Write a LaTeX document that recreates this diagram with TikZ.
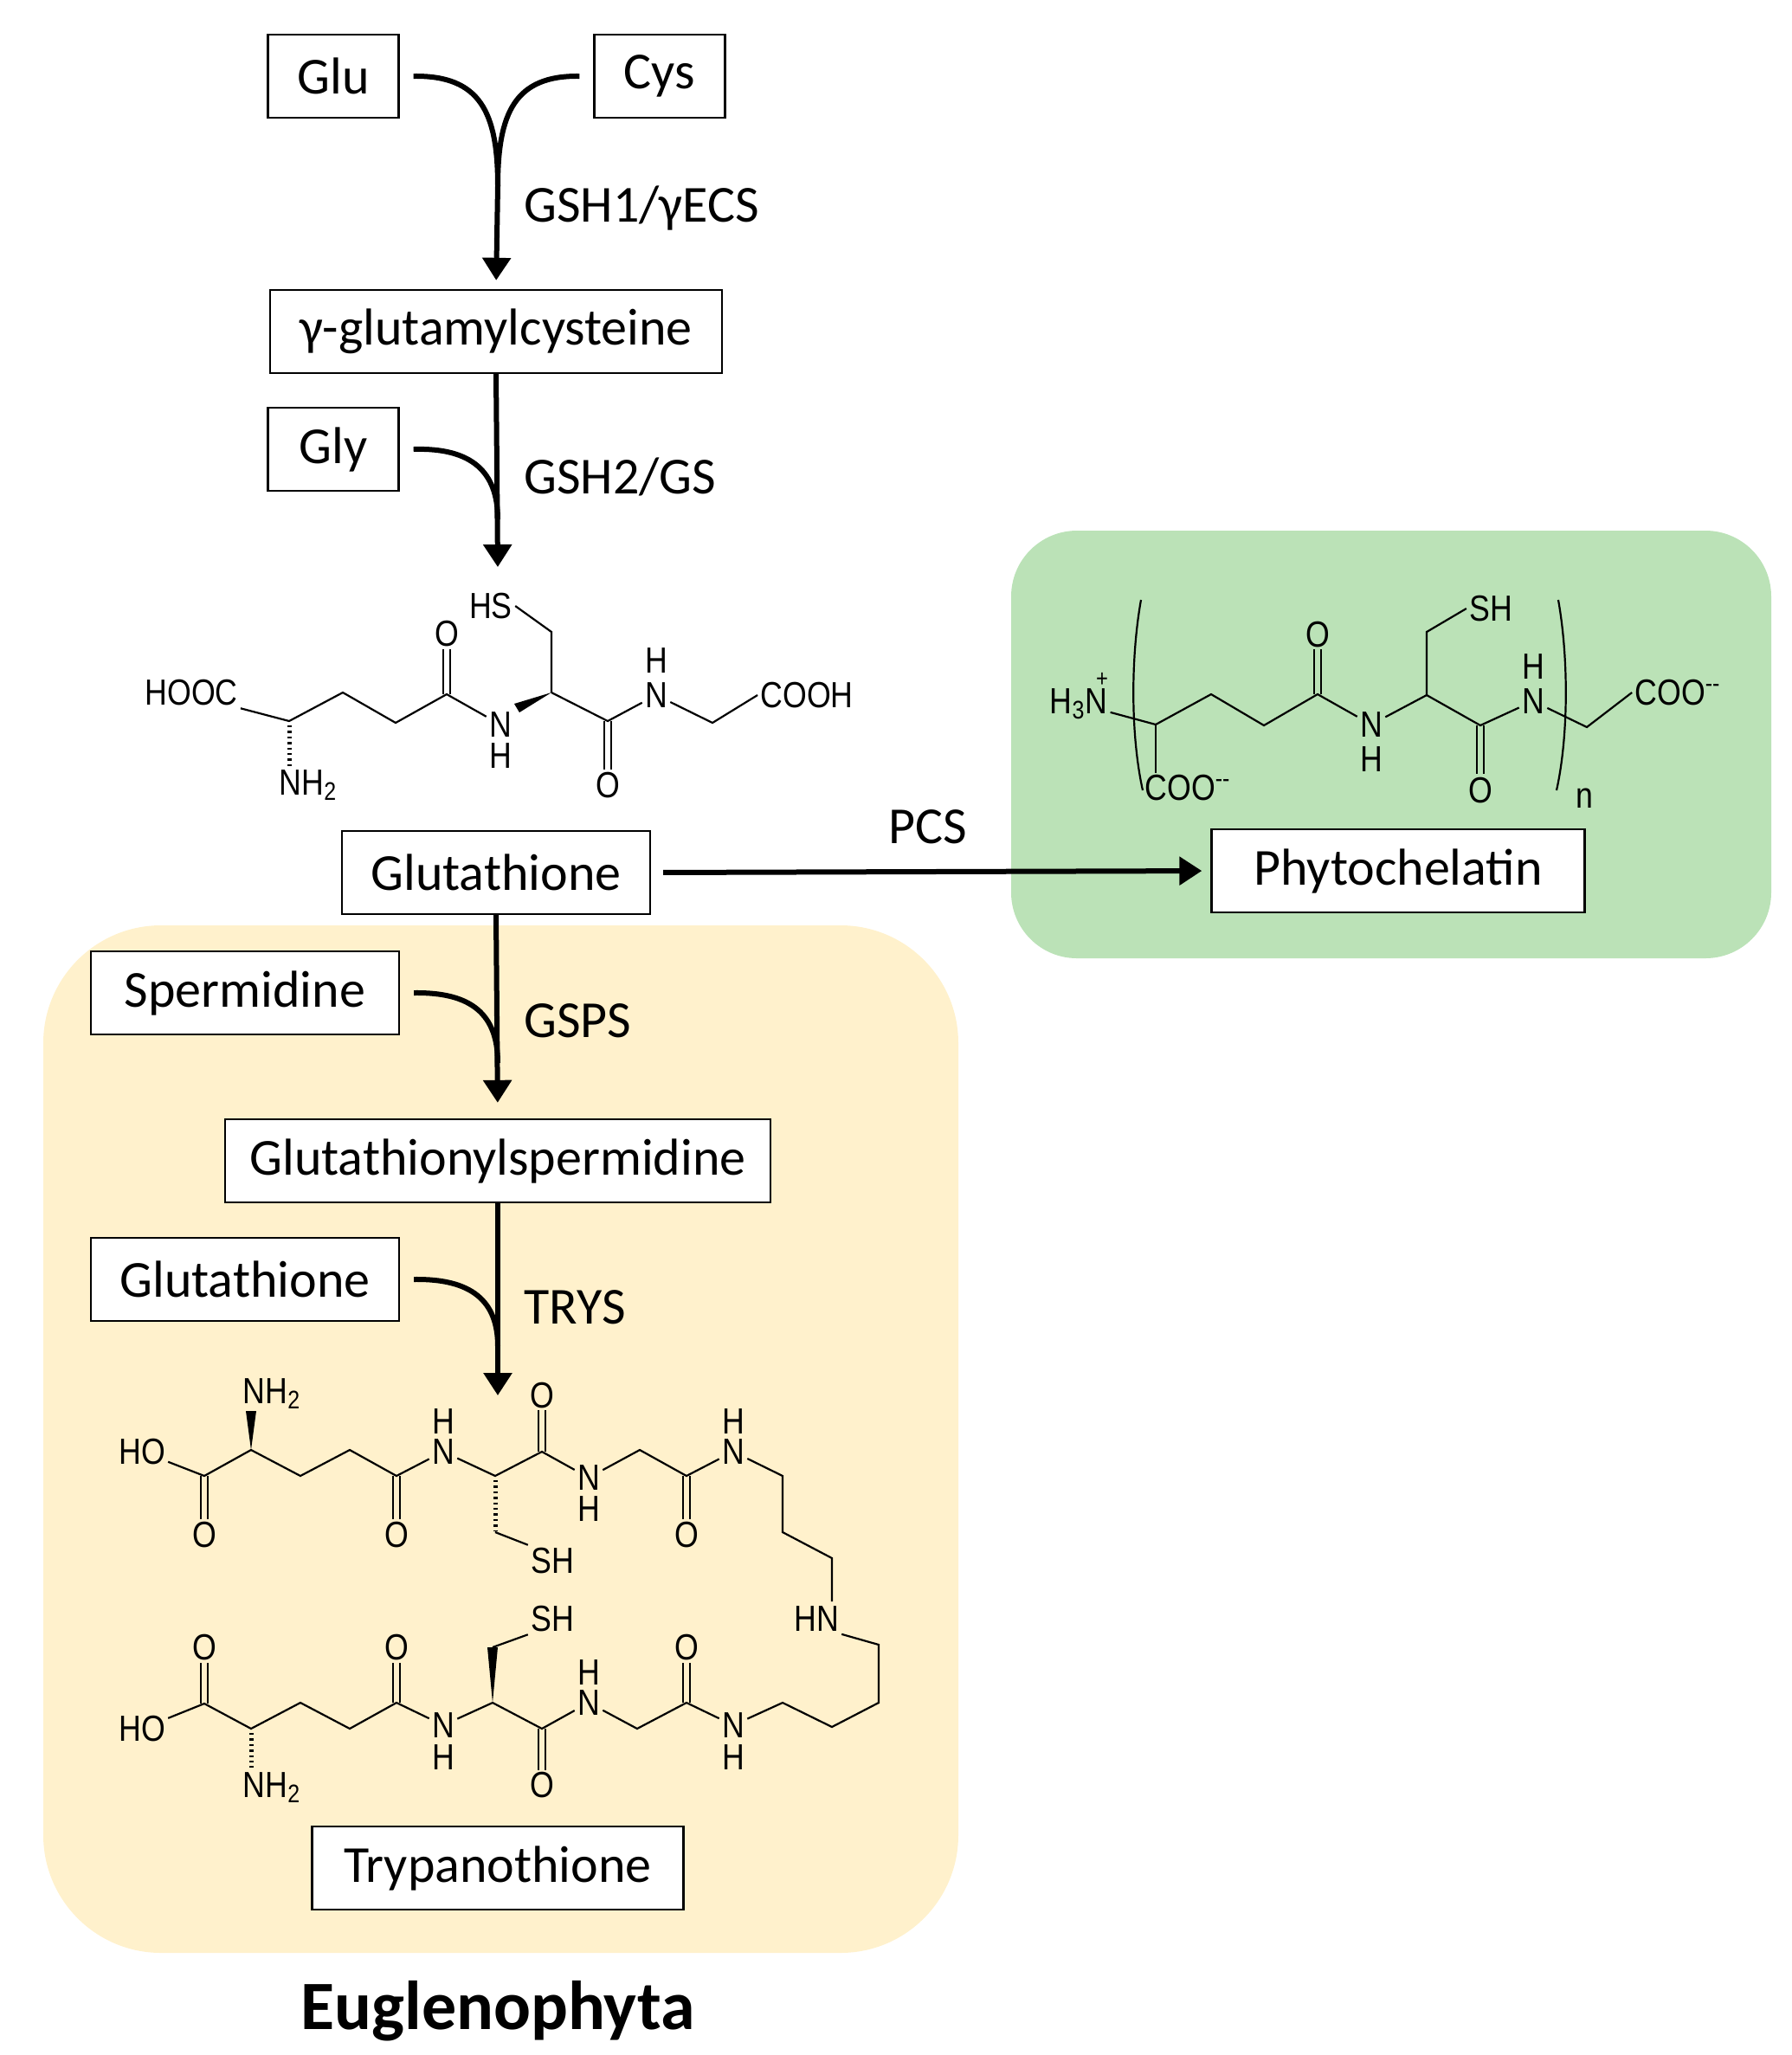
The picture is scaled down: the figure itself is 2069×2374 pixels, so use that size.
\documentclass[tikz,border=0pt]{standalone}
\usepackage{fontspec}
\setmainfont{Carlito}
\newfontfamily\chemf{Liberation Sans}[FakeStretch=0.85]
\usetikzlibrary{arrows.meta}
\definecolor{greenbg}{RGB}{187,226,183}
\definecolor{yellowbg}{RGB}{255,241,204}
\begin{document}
\begin{tikzpicture}[x=0.5pt,y=-0.5pt,
  box/.style={draw,line width=1.2pt,fill=white,font=\fontsize{30}{36}\selectfont,minimum height=48pt,inner sep=0pt},
  lab/.style={anchor=west,font=\fontsize{30}{36}\selectfont,inner sep=0pt},
  arr/.style={line width=3pt,-{Triangle[length=13pt,width=16pt]}},
  feed/.style={line width=3pt},
  atm/.style={font=\chemf\fontsize{21}{24}\selectfont,inner sep=1.5pt},
  bond/.style={line width=1.1pt},
  hash/.style={line width=2.5pt,dash pattern=on 1.2pt off 2pt}]
\useasboundingbox (0,0) rectangle (2069,2374);
% backgrounds
\fill[yellowbg,rounded corners=68pt] (50,1069) rectangle (1107,2256);
\fill[greenbg,rounded corners=38pt] (1168,613) rectangle (2046,1107);
% boxes
\node[box,minimum width=75.5pt] (glu) at (385,88) {Glu};
\node[box,minimum width=75.5pt] (cys) at (762,88) {Cys};
\node[box,minimum width=261pt] (gam) at (573,383) {γ-glutamylcysteine};
\node[box,minimum width=75.5pt] (gly) at (385,519) {Gly};
\node[box,minimum width=178pt] (gsh) at (573,1008) {Glutathione};
\node[box,minimum width=215.5pt] (pc) at (1615,1006) {Phytochelatin};
\node[box,minimum width=178pt] (spd) at (283,1147) {Spermidine};
\node[box,minimum width=315pt] (gsp) at (575,1341) {Glutathionylspermidine};
\node[box,minimum width=178pt] (gsh2) at (283,1478) {Glutathione};
\node[box,minimum width=214.5pt] (tryp) at (575,2158) {Trypanothione};
\node[font=\bfseries\fontsize{40}{48}\selectfont] (eug) at (575,2323) {Euglenophyta};
% labels
\node[lab] (l1) at (605,240) {GSH1/γECS};
\node[lab] (l2) at (605,551) {GSH2/GS};
\node[lab] (l3) at (605,1179) {GSPS};
\node[lab] (l4) at (605,1510) {TRYS};
\node[lab,anchor=center] (l5) at (1072,955) {PCS};
% arrows
\coordinate (j1) at (575,215);
\coordinate (j2) at (575,600);
\coordinate (t2) at (575,655);
\coordinate (j3) at (575,1228);
\coordinate (j4) at (575,1555);
\coordinate (t4) at (575,1612);
\draw[feed] ([xshift=8pt]glu.east) .. controls (555,87) and (575,130) .. (j1);
\draw[feed] ([xshift=-8pt]cys.west) .. controls (595,87) and (575,130) .. (j1);
\draw[arr,shorten >=5pt] (j1) -- (gam.north);
\draw[arr] (gam.south) -- (t2);
\draw[feed] ([xshift=8pt]gly.east) .. controls (545,517) and (575,545) .. (j2);
\draw[arr,shorten >=9pt] (gsh.south) -- (gsp.north);
\draw[feed] ([xshift=8pt]spd.east) .. controls (545,1146) and (575,1172) .. (j3);
\draw[arr] (gsp.south) -- (t4);
\draw[feed] ([xshift=8pt]gsh2.east) .. controls (545,1477) and (575,1503) .. (j4);
\draw[arr,shorten <=7pt,shorten >=5pt] (gsh.east) -- (pc.west);
% ---------- Glutathione structure
\node[atm] (gHOOC) at (221,800) {HOOC};
\node[atm] (gNH2) at (356,907) {NH\textsubscript{2}};
\node[atm] (gO1) at (516,732) {O};
\node[atm] (gN1) at (578,837) {N};
\node[atm] (gH1) at (578,873) {H};
\node[atm] (gHS) at (567,700) {HS};
\node[atm] (gO2) at (702,907) {O};
\node[atm] (gN2) at (758,803) {N};
\node[atm] (gH2) at (758,763) {H};
\node[atm] (gCOOH) at (932,803) {COOH};
\draw[bond] (gHOOC.south east) -- (334,833) -- (396,800) -- (457,835) -- (516,802) -- (gN1);
\draw[bond] (512,802) -- (512,750) (520,802) -- (520,750);
\fill (637,800) -- (600,823) -- (594,813) -- cycle;
\draw[bond] (637,800) -- (637,730) -- (gHS.east);
\draw[bond] (637,800) -- (702,833) -- (gN2);
\draw[bond] (698,833) -- (698,889) (706,833) -- (706,889);
\draw[bond] (gN2) -- (823,835) -- (gCOOH.west);
\draw[hash] (334,838) -- (334,888);
% ---------- Phytochelatin
\node[atm] (pH3N) at (1246,813) {H\textsubscript{3}N};
\node[atm,font=\chemf\fontsize{14}{16}\selectfont] (pplus) at (1273,785) {+};
\node[atm] (pCOO1) at (1372,910) {COO\textsuperscript{--}};
\node[atm] (pO1) at (1522,733) {O};
\node[atm] (pN1) at (1584,837) {N};
\node[atm] (pH1) at (1584,877) {H};
\node[atm] (pSH) at (1722,703) {SH};
\node[atm] (pO2) at (1710,913) {O};
\node[atm] (pN2) at (1771,810) {N};
\node[atm] (pH2) at (1771,770) {H};
\node[atm] (pCOO2) at (1938,800) {COO\textsuperscript{--}};
\node[atm] (pn) at (1830,922) {n};
\draw[bond] (pH3N) -- (1335,837) -- (1399,802) -- (1460,838) -- (1522,802) -- (pN1);
\draw[bond] (1335,837) -- (1335,893);
\draw[bond] (1518,802) -- (1518,750) (1526,802) -- (1526,750);
\draw[bond] (pN1) -- (1648,803) -- (1648,730) -- (pSH.west);
\draw[bond] (1648,803) -- (1710,838) -- (pN2);
\draw[bond] (1706,838) -- (1706,894) (1714,838) -- (1714,894);
\draw[bond] (pN2) -- (1833,840) -- (pCOO2.west);
\draw[bond] (1318,693) .. controls (1306,760) and (1306,850) .. (1320,913);
\draw[bond] (1800,693) .. controls (1812,760) and (1812,850) .. (1798,913);
% ---------- Trypanothione
\node[atm] (tHO1) at (164,1677) {HO};
\node[atm] (tO1) at (236,1773) {O};
\node[atm] (tNH2a) at (314,1610) {NH\textsubscript{2}};
\node[atm] (tO2) at (458,1773) {O};
\node[atm] (tN1) at (512,1677) {N};
\node[atm] (tH1) at (512,1642) {H};
\node[atm] (tSH1) at (638,1803) {SH};
\node[atm] (tO3) at (626,1612) {O};
\node[atm] (tN2) at (680,1707) {N};
\node[atm] (tH2) at (680,1743) {H};
\node[atm] (tO4) at (793,1773) {O};
\node[atm] (tN3) at (847,1677) {N};
\node[atm] (tH3) at (847,1642) {H};
\node[atm] (tHN) at (943,1870) {HN};
\node[atm] (tN4) at (847,1993) {N};
\node[atm] (tH4) at (847,2030) {H};
\node[atm] (tHO2) at (164,1997) {HO};
\node[atm] (tO5) at (236,1903) {O};
\node[atm] (tNH2b) at (314,2065) {NH\textsubscript{2}};
\node[atm] (tO6) at (458,1903) {O};
\node[atm] (tN5) at (512,1993) {N};
\node[atm] (tH5) at (512,2030) {H};
\node[atm] (tSH2) at (638,1870) {SH};
\node[atm] (tO7) at (626,2062) {O};
\node[atm] (tN6) at (680,1967) {N};
\node[atm] (tH6) at (680,1932) {H};
\node[atm] (tO8) at (793,1903) {O};
% top chain
\draw[bond] (tHO1) -- (236,1705) -- (290,1675) -- (347,1705) -- (404,1675) -- (458,1705) -- (tN1) -- (572,1705) -- (626,1677) -- (tN2) -- (739,1675) -- (793,1705) -- (tN3) -- (904,1705) -- (904,1770) -- (961,1800) -- (961,1850);
\draw[bond] (232,1705) -- (232,1755) (240,1705) -- (240,1755);
\draw[bond] (454,1705) -- (454,1755) (462,1705) -- (462,1755);
\draw[bond] (622,1677) -- (622,1629) (630,1677) -- (630,1629);
\draw[bond] (789,1705) -- (789,1755) (797,1705) -- (797,1755);
\fill (290,1675) -- (284,1630) -- (296,1630) -- cycle;
\draw[hash] (572,1710) -- (572,1768);
\draw[bond] (572,1770) -- (tSH1.north west);
% linker
\draw[bond] (tHN.south east) -- (1015,1900) -- (1015,1967) -- (961,1995) -- (904,1967) -- (tN4);
% bottom chain
\draw[bond] (tHO2) -- (236,1968) -- (290,1997) -- (347,1967) -- (404,1997) -- (458,1967) -- (tN5) -- (569,1967) -- (626,1997) -- (tN6) -- (736,1997) -- (793,1967) -- (tN4);
\draw[bond] (232,1968) -- (232,1921) (240,1968) -- (240,1921);
\draw[bond] (454,1967) -- (454,1921) (462,1967) -- (462,1921);
\draw[bond] (622,1997) -- (622,2045) (630,1997) -- (630,2045);
\draw[bond] (789,1967) -- (789,1921) (797,1967) -- (797,1921);
\fill (569,1967) -- (563,1903) -- (575,1903) -- cycle;
\draw[bond] (569,1903) -- (tSH2.south west);
\draw[hash] (290,2002) -- (290,2042);
\end{tikzpicture}
\end{document}
